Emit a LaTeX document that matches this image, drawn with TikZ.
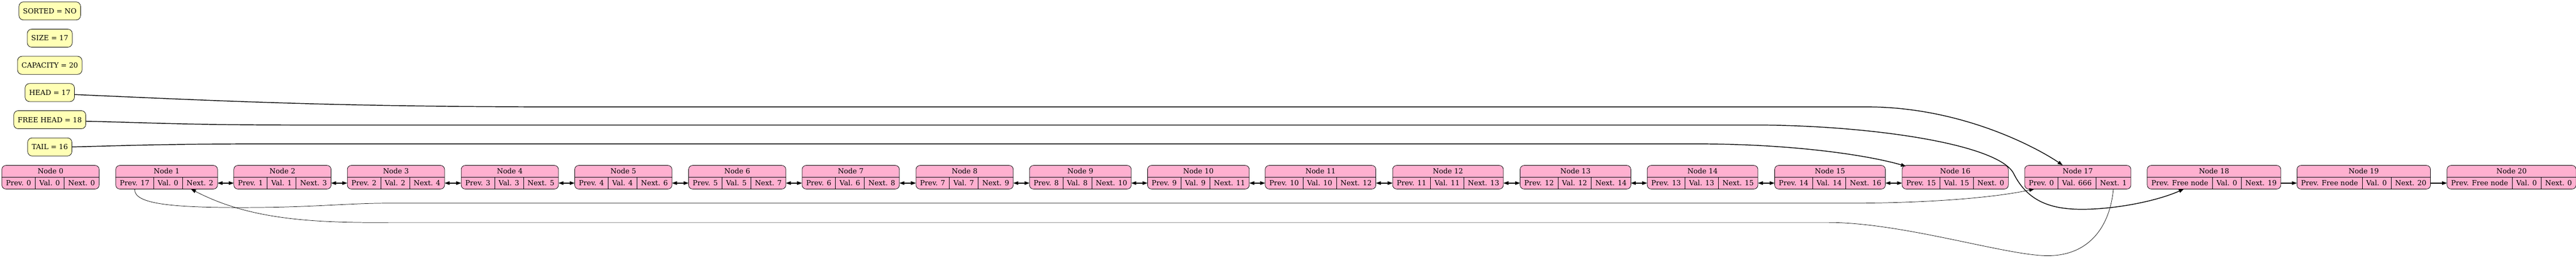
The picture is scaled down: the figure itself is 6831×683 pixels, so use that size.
\documentclass[tikz,border=0pt]{standalone}
\usepackage{fontspec}
\setmainfont{DejaVu Serif}
\usetikzlibrary{positioning,fit,backgrounds,arrows.meta}
\definecolor{statefill}{HTML}{FFFFB5}
\definecolor{recfill}{HTML}{FFB0D0}
\tikzset{
  gv/.tip={Triangle[length=10pt,width=7pt]},
  statebox/.style={draw, fill=statefill, line width=0.8pt, rounded corners=9pt,
    minimum height=36pt, inner xsep=8pt, inner ysep=0pt,
    font=\fontsize{14}{17}\selectfont},
  fld/.style={inner xsep=8pt, inner ysep=0pt, minimum height=23.25pt,
    text height=10.5pt, text depth=0pt, font=\fontsize{14}{17}\selectfont},
  recbox/.style={draw, fill=recfill, line width=0.8pt, rounded corners=8pt, inner sep=0pt},
  ptr/.style={-gv, line width=1.5pt},
  biptr/.style={gv-gv, line width=1.5pt},
  thinptr/.style={-gv, line width=0.75pt}
}
\begin{document}
\begin{tikzpicture}[x=0.75pt,y=-0.75pt]
  \useasboundingbox (0,0) rectangle (6831,683);
  \node[statebox] (sorted) at (132,29) {SORTED = NO};
  \node[statebox] (size) at (132,101) {SIZE = 17};
  \node[statebox] (capacity) at (132,173) {CAPACITY = 20};
  \node[statebox] (head) at (132,245) {HEAD = 17};
  \node[statebox] (freehead) at (132,317) {FREE HEAD = 18};
  \node[statebox] (tail) at (132,389) {TAIL = 16};
  \foreach \i/\lx/\pv/\vl/\nx in {0/5/0/0/0, 1/307/17/0/2, 2/620/1/1/3,
      3/921/2/2/4, 4/1223/3/3/5, 5/1524/4/4/6, 6/1826/5/5/7, 7/2127/6/6/8,
      8/2429/7/7/9, 9/2730/8/8/10, 10/3043/9/9/11, 11/3355/10/10/12,
      12/3693/11/11/13, 13/4031/12/12/14, 14/4368/13/13/15, 15/4706/14/14/16,
      16/5044/15/15/0, 17/5369/0/666/1, 18/5694/Free node/0/19,
      19/6091/Free node/0/20, 20/6489/Free node/0/0} {
    \node[fld, anchor=north west] (p\i) at (\lx,469) {Prev. \pv};
    \node[fld, right=0pt of p\i] (v\i) {Val. \vl};
    \node[fld, right=0pt of v\i] (n\i) {Next. \nx};
    \coordinate (c\i) at (\lx,438);
    \begin{scope}[on background layer]
      \node[recbox, fit={(p\i)(n\i)(c\i)}] (r\i) {};
    \end{scope}
    \node[fld] (t\i) at (r\i.center |- 0,453) {Node \i};
    \draw[line width=0.8pt] (r\i.west |- p\i.north) -- (r\i.east |- p\i.north);
    \draw[line width=0.6pt] (p\i.north east) -- (p\i.south east)
      (v\i.north east) -- (v\i.south east);
  }
  \foreach \i [evaluate=\i as \j using int(\i+1)] in {1,...,15}
    \path (n\i) edge [biptr] (p\j);
  \path (n18) edge [ptr] (p19);
  \path (n19) edge [ptr] (p20);
  \draw[ptr] (tail.east) .. controls (350,385) and (450,381) .. (700,381)
    -- (4500,381) .. controls (4750,381) and (4950,410) .. ([xshift=8pt,yshift=-2pt]r16.north west);
  \draw[ptr] ([yshift=-4pt]head.east) .. controls (600,268) and (900,283) .. (1500,283)
    -- (4950,283) .. controls (5200,283) and (5400,390) .. ([xshift=-30pt]r17.north);
  \draw[ptr] ([yshift=-3pt]freehead.east) .. controls (400,325) and (500,331) .. (800,331)
    -- (4650,331) .. controls (4950,331) and (5300,380) .. (5340,460)
    .. controls (5380,540) and (5450,556) .. (5534,554)
    .. controls (5618,552) and (5720,532) .. ([xshift=8pt]p18.south);
  \draw[thinptr] (p1.south) .. controls (355,540) and (450,552) .. (705,549)
    .. controls (850,547) and (930,538) .. (1030,538) -- (4900,538)
    .. controls (5100,538) and (5280,525) .. ([xshift=-14pt]p17.south);
  \draw[thinptr] (n17.south) .. controls (5595,600) and (5540,677) .. (5430,677)
    .. controls (5320,677) and (5050,590) .. (4850,589) -- (1030,589)
    .. controls (800,591) and (650,575) .. ([xshift=-18pt]n1.south);
\end{tikzpicture}
\end{document}
